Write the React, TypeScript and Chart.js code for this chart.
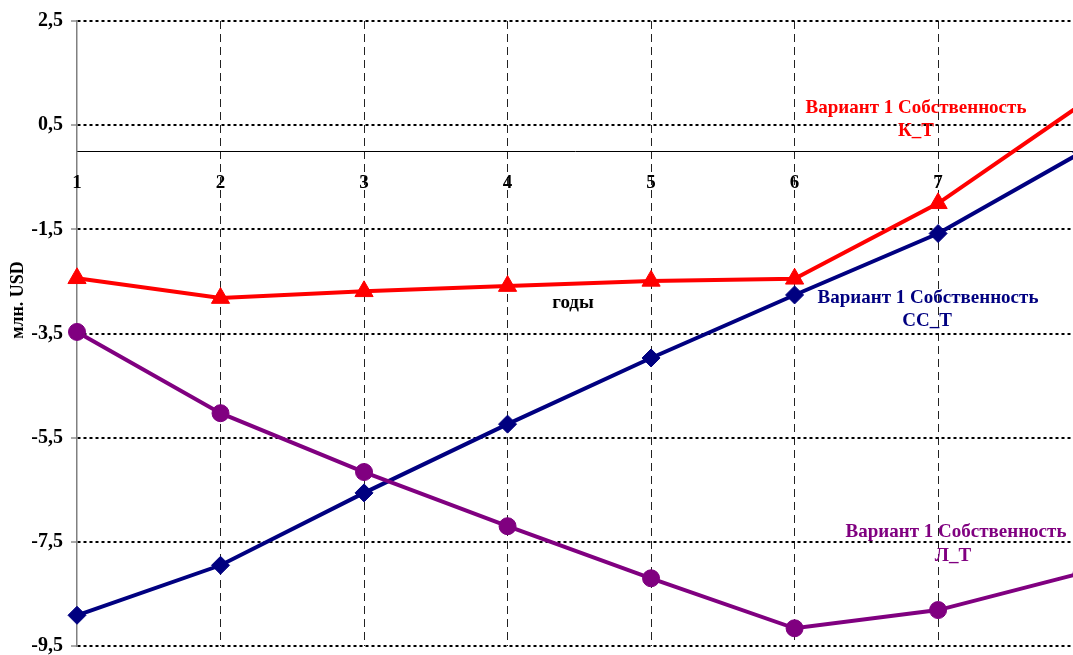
import { useEffect, useRef } from 'react';
import { Chart, registerables } from 'chart.js';

Chart.register(...registerables);

// Years on the horizontal axis (the last one runs past the right edge)
const years = [1, 2, 3, 4, 5, 6, 7, 8];

// Variant 1 ownership series, million USD
const valuesKT = [-2.44, -2.82, -2.69, -2.59, -2.49, -2.45, -1.0, 0.9];
const valuesCCT = [-8.91, -7.95, -6.56, -5.24, -3.97, -2.76, -1.58, -0.02];
const valuesLT = [-3.47, -5.03, -6.16, -7.2, -8.2, -9.16, -8.81, -8.1];

// Series captions (two lines each)
const captionKT = ['Вариант 1 Собственность', 'К_Т'];
const captionCCT = ['Вариант 1 Собственность', 'СС_Т'];
const captionLT = ['Вариант 1 Собственность', 'Л_Т'];

const xAxisTitle = 'годы';
const yAxisTitle = 'млн. USD';

const Y_MIN = -9.5;
const Y_MAX = 2.5;
const Y_STEP = 2;

const FONT = "'Liberation Serif', 'Times New Roman', serif";
const RED = '#ff0000';
const NAVY = '#000080';
const PURPLE = '#800080';

const toPoints = (vals: number[]) => vals.map((v, i) => ({ x: years[i], y: v }));

// Scales should not reserve extra room for overflowing tick labels
const noScalePadding = (scale: any) => {
  scale.paddingTop = 0;
  scale.paddingBottom = 0;
  scale.paddingLeft = 0;
  scale.paddingRight = 0;
};

const textPlugin = {
  id: 'captions',
  afterDatasetsDraw(chart: any) {
    const ctx = chart.ctx as CanvasRenderingContext2D;
    ctx.save();
    ctx.font = `bold 19px ${FONT}`;
    ctx.textAlign = 'center';
    ctx.textBaseline = 'middle';

    const drawCaption = (lines: string[], color: string, pos: [number, number][]) => {
      ctx.fillStyle = color;
      lines.forEach((t, i) => ctx.fillText(t, pos[i][0], pos[i][1]));
    };
    drawCaption(captionKT, RED, [[916, 108], [916, 131]]);
    drawCaption(captionCCT, NAVY, [[928, 298], [927, 321]]);
    drawCaption(captionLT, PURPLE, [[956, 532], [953, 556]]);

    ctx.fillStyle = '#000';
    ctx.fillText(xAxisTitle, 573, 303);

    ctx.translate(18, 300);
    ctx.rotate(-Math.PI / 2);
    ctx.font = `bold 18px ${FONT}`;
    ctx.fillText(yAxisTitle, 0, 0);
    ctx.restore();
  },
};

export default function App() {
  const canvasRef = useRef<HTMLCanvasElement | null>(null);

  useEffect(() => {
    if (!canvasRef.current) return;
    const common = {
      borderWidth: 4,
      tension: 0,
      pointBorderWidth: 1,
      clip: { left: 12, top: 12, bottom: 12, right: 0 },
    };
    const chart = new Chart(canvasRef.current, {
      type: 'line',
      data: {
        datasets: [
          {
            ...common,
            label: captionLT.join(' '),
            data: toPoints(valuesLT),
            borderColor: PURPLE,
            backgroundColor: PURPLE,
            pointStyle: 'circle',
            pointRadius: 8.5,
          },
          {
            ...common,
            label: captionCCT.join(' '),
            data: toPoints(valuesCCT),
            borderColor: NAVY,
            backgroundColor: NAVY,
            pointStyle: 'rectRot',
            pointRadius: 9,
          },
          {
            ...common,
            label: captionKT.join(' '),
            data: toPoints(valuesKT),
            borderColor: RED,
            backgroundColor: RED,
            pointStyle: 'triangle',
            pointRadius: 10.5,
          },
        ],
      },
      options: {
        animation: false,
        responsive: false,
        maintainAspectRatio: false,
        layout: { autoPadding: false, padding: { top: 21, bottom: 9, left: 0, right: 0 } },
        plugins: {
          legend: { display: false },
          tooltip: { enabled: false },
        },
        scales: {
          x: {
            type: 'linear',
            position: { y: 0 },
            min: 1,
            max: 7.94,
            afterBuildTicks: (scale: any) => {
              scale.ticks = scale.ticks.filter((t: any) => Number.isInteger(t.value));
            },
            afterFit: noScalePadding,
            ticks: {
              stepSize: 1,
              color: '#000',
              padding: 20,
              z: 1,
              font: { family: FONT, size: 19, weight: 'bold' },
            },
            grid: {
              drawTicks: false,
              lineWidth: 1,
              color: (c: any) => (c.tick && c.tick.value === 1 ? 'rgba(0,0,0,0)' : '#222'),
            },
            border: { display: true, color: '#000', width: 1, dash: [8, 5] },
          },
          y: {
            type: 'linear',
            min: Y_MIN,
            max: Y_MAX,
            afterFit: (scale: any) => {
              noScalePadding(scale);
              scale.width = 77;
            },
            ticks: {
              stepSize: Y_STEP,
              color: '#000',
              padding: 8,
              font: { family: FONT, size: 20, weight: 'bold' },
              callback: (v: any) => String(v).replace('.', ','),
            },
            grid: {
              color: '#000',
              lineWidth: 2,
              tickLength: 6,
              tickColor: '#555',
              tickWidth: 1,
              tickBorderDash: [],
            },
            border: { display: true, color: '#808080', width: 1.5, dash: [3, 3] },
          },
        },
      },
      plugins: [textPlugin],
    } as any);
    return () => chart.destroy();
  }, []);

  return (
    <div style={{ position: 'fixed', left: 0, top: 0, width: 1073, height: 655, background: '#fff' }}>
      <canvas ref={canvasRef} width={1073} height={655} style={{ display: 'block' }} />
    </div>
  );
}
